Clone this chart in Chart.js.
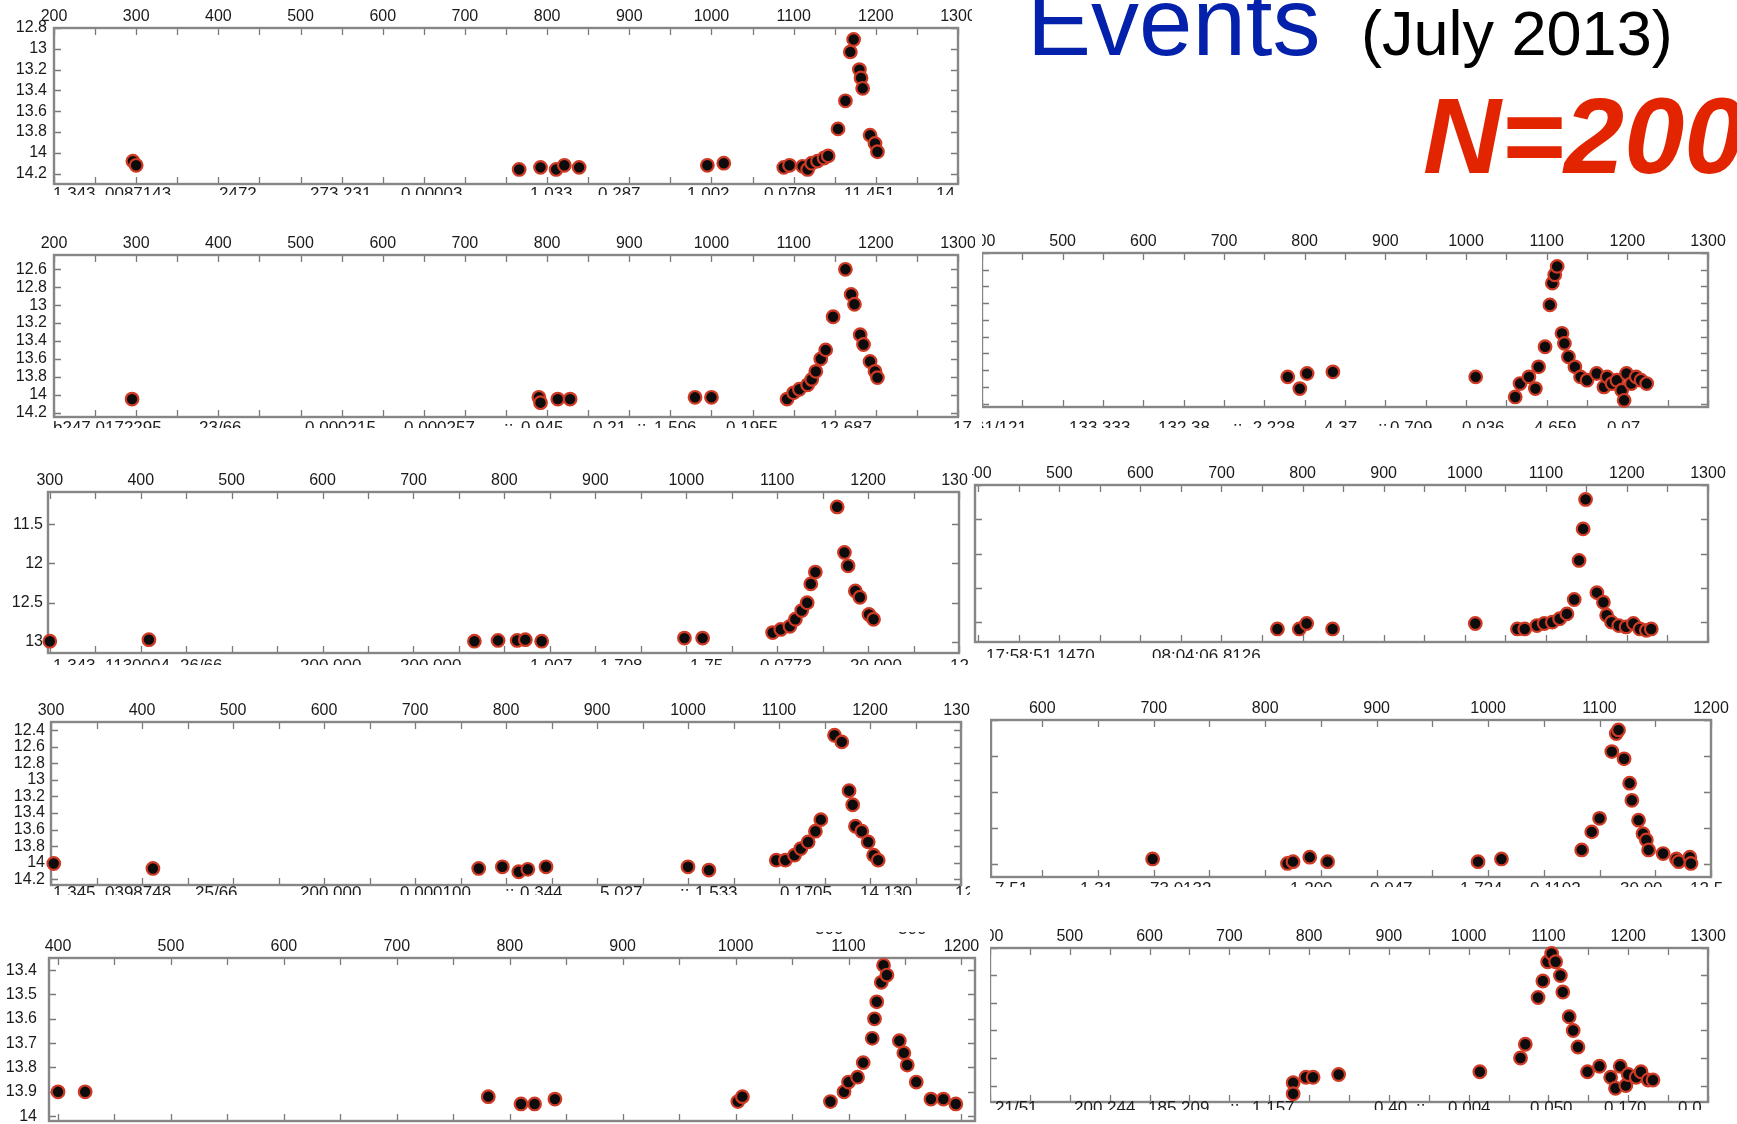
<!DOCTYPE html>
<html>
<head>
<meta charset="utf-8">
<script src="https://cdn.jsdelivr.net/npm/chart.js@4.4.1/dist/chart.umd.min.js"></script>
<style>
html, body { margin: 0; padding: 0; background: #fff; }
body { width: 1737px; height: 1124px; position: relative; overflow: hidden; font-family: 'Liberation Sans', Arial, sans-serif; }
.crop { position: absolute; overflow: hidden; background: #fff; filter: blur(0.7px); }
.crop canvas { position: absolute; }
.row { position: absolute; font-family: 'Liberation Sans Narrow', 'Liberation Sans', sans-serif; font-size: 17px; line-height: 17px; color: #1e1e1e; white-space: pre; }
.title { position: absolute; white-space: nowrap; line-height: 1; }
</style>
</head>
<body>
<div class="title" style="left:1027px; top:-26px; font-size:96px; color:#0321ab;">Events</div>
<div class="title" style="left:1361px; top:2px; font-size:63px; color:#000;">(July 2013)</div>
<div class="title" style="left:1423px; top:82px; font-size:108px; color:#e32400; font-weight:bold; font-style:italic;">N=200</div>

<script>
// light curves (day, magnitude)
const p1Day = [296, 300, 766, 792, 811, 821, 839, 995, 1015, 1088, 1095, 1111, 1117, 1122, 1129, 1137, 1142, 1154, 1163, 1169, 1173, 1180, 1182, 1184, 1193, 1199, 1202];
const p1Mag = [14.08, 14.12, 14.16, 14.14, 14.16, 14.12, 14.14, 14.12, 14.1, 14.14, 14.12, 14.13, 14.16, 14.1, 14.08, 14.05, 14.03, 13.77, 13.5, 13.03, 12.91, 13.2, 13.28, 13.38, 13.83, 13.91, 13.99];

const p2Day = [295, 790, 792, 813, 828, 980, 1000, 1092, 1100, 1107, 1117, 1122, 1127, 1133, 1139, 1148, 1163, 1170, 1174, 1181, 1185, 1193, 1199, 1202];
const p2Mag = [14.05, 14.03, 14.09, 14.05, 14.05, 14.03, 14.03, 14.05, 13.98, 13.94, 13.89, 13.83, 13.74, 13.6, 13.5, 13.13, 12.6, 12.88, 12.99, 13.33, 13.44, 13.63, 13.74, 13.81];

const p3Day = [300, 409, 767, 793, 814, 823, 841, 998, 1018, 1095, 1104, 1114, 1120, 1127, 1133, 1137, 1142, 1166, 1174, 1178, 1186, 1191, 1201, 1206];
const p3Mag = [12.99, 12.97, 12.99, 12.98, 12.98, 12.97, 12.99, 12.95, 12.95, 12.88, 12.84, 12.8, 12.71, 12.6, 12.5, 12.26, 12.11, 11.28, 11.86, 12.03, 12.35, 12.43, 12.65, 12.71];

const p4Day = [303, 412, 770, 796, 814, 824, 844, 1000, 1023, 1097, 1107, 1117, 1124, 1132, 1140, 1146, 1161, 1169, 1177, 1181, 1184, 1191, 1198, 1204, 1209];
const p4Mag = [14.01, 14.07, 14.07, 14.05, 14.11, 14.08, 14.05, 14.05, 14.09, 13.97, 13.97, 13.91, 13.83, 13.75, 13.62, 13.48, 12.46, 12.54, 13.13, 13.3, 13.56, 13.62, 13.75, 13.91, 13.97];

const p5Day = [400, 424, 781, 810, 822, 840, 1002, 1006, 1084, 1096, 1100, 1108, 1113, 1121, 1123, 1125, 1129, 1131, 1134, 1145, 1149, 1152, 1160, 1173, 1184, 1195];
const p5Mag = [13.9, 13.9, 13.92, 13.95, 13.95, 13.93, 13.94, 13.92, 13.94, 13.9, 13.86, 13.84, 13.78, 13.68, 13.6, 13.53, 13.45, 13.38, 13.42, 13.69, 13.74, 13.79, 13.86, 13.93, 13.93, 13.95];

const p6Day = [779, 794, 803, 835, 1012, 1061, 1067, 1078, 1086, 1090, 1098, 1104, 1107, 1110, 1113, 1119, 1122, 1127, 1135, 1142, 1150, 1162, 1171, 1175, 1181, 1187, 1193, 1196, 1199, 1205, 1211, 1217, 1224];
const p6Mag = [13.88, 14.02, 13.84, 13.82, 13.88, 14.12, 13.96, 13.88, 14.02, 13.76, 13.52, 13.02, 12.76, 12.66, 12.56, 13.36, 13.48, 13.64, 13.76, 13.88, 13.92, 13.84, 14.0, 13.88, 13.96, 13.92, 14.04, 14.16, 13.84, 13.96, 13.88, 13.92, 13.96];

const p7Day = [769, 796, 805, 837, 1013, 1065, 1074, 1089, 1098, 1108, 1117, 1126, 1135, 1141, 1146, 1149, 1163, 1171, 1175, 1181, 1190, 1199, 1208, 1216, 1224, 1230];
const p7Mag = [13.1, 13.1, 13.02, 13.1, 13.02, 13.1, 13.1, 13.05, 13.02, 13.0, 12.95, 12.88, 12.67, 12.1, 11.64, 11.21, 12.57, 12.71, 12.9, 13.0, 13.05, 13.07, 13.02, 13.1, 13.12, 13.1];

const p8Day = [699, 820, 825, 840, 856, 991, 1012, 1084, 1093, 1100, 1111, 1115, 1117, 1122, 1127, 1129, 1135, 1139, 1142, 1144, 1157, 1169, 1171, 1181, 1182];
const p8Mag = [13.94, 13.99, 13.97, 13.92, 13.97, 13.97, 13.94, 13.84, 13.64, 13.49, 12.75, 12.55, 12.51, 12.83, 13.1, 13.29, 13.51, 13.66, 13.73, 13.84, 13.88, 13.94, 13.97, 13.92, 13.99];

const p9Day = [780, 780, 796, 805, 837, 1014, 1065, 1071, 1087, 1093, 1099, 1104, 1109, 1115, 1118, 1126, 1131, 1137, 1149, 1164, 1178, 1184, 1190, 1197, 1200, 1210, 1216, 1225, 1231];
const p9Mag = [13.79, 13.83, 13.77, 13.77, 13.76, 13.75, 13.7, 13.65, 13.48, 13.42, 13.35, 13.32, 13.35, 13.4, 13.46, 13.55, 13.6, 13.66, 13.75, 13.73, 13.77, 13.81, 13.73, 13.8, 13.76, 13.77, 13.75, 13.78, 13.78];

const FONT = "'Liberation Sans Narrow', 'Liberation Sans', Arial, sans-serif";
const PAD = { l: 70, t: 40, r: 40, b: 30 };

// crop = visible piece of each pasted plot, box = its axes frame (page px)
const panels = [
  { days: p6Day, mags: p6Mag, crop: [982, 228, 755, 200], box: [982, 253, 1708, 407], x: [400, 1300], y: [12.4, 14.24, 0.2], yPad: null,
    row: { top: 419, items: [[975, '61/121'], [1069, '133.333'], [1158, '132.38'], [1233, '::'], [1247, '-2.228'], [1324, '4.37'], [1378, '::'], [1390, '0.709'], [1462, '0.036'], [1534, '4.659'], [1607, '0.07']] } },
  { days: p7Day, mags: p7Mag, crop: [972, 455, 765, 203], box: [975, 485, 1708, 642], x: [396, 1300], y: [11.0, 13.29, 0.5], yPad: null,
    row: { top: 647, items: [[986, '17:58:51.1470'], [1152, '08:04:06.8126']] } },
  { days: p8Day, mags: p8Mag, crop: [990, 690, 747, 197], box: [991, 720, 1711, 877], x: [554, 1200], y: [12.4, 14.14, 0.4], yPad: null,
    row: { top: 880, items: [[995, '7.51'], [1080, '1.31'], [1150, '73.0132'], [1290, '1.200'], [1370, '0.047'], [1460, '1.724'], [1530, '0.1102'], [1620, '30.00'], [1690, '12.5']] } },
  { days: p9Day, mags: p9Mag, crop: [990, 925, 747, 185], box: [990, 948, 1708, 1102], x: [400, 1300], y: [13.3, 13.86, 0.1], yPad: null,
    row: { top: 1099, items: [[995, '21/51'], [1074, '200.244'], [1148, '185.209'], [1230, '::'], [1252, '1.157'], [1374, '0.40'], [1416, '::'], [1448, '0.004'], [1530, '0.050'], [1604, '0.170'], [1678, '0.0']] } },
  { days: p1Day, mags: p1Mag, crop: [0, 0, 972, 195], box: [54, 28, 958, 184], x: [200, 1300], y: [12.8, 14.3, 0.2], yPad: 7,
    row: { top: 185, items: [[53, '1.343 .0087143'], [219, '2472'], [310, '273.231'], [401, '0.00003'], [530, '1.033'], [598, '0.287'], [687, '1.002'], [764, '0.0708'], [844, '11.451'], [936, '14']] } },
  { days: p2Day, mags: p2Mag, crop: [0, 228, 975, 200], box: [54, 255, 958, 417], x: [200, 1300], y: [12.44, 14.25, 0.2], yPad: 7,
    row: { top: 419, items: [[53, 'b247.0172295'], [199, '23/66'], [305, '0.000215'], [404, '0.000257'], [504, '::'], [521, '0.945'], [593, '0.21'], [637, '::'], [654, '1.506'], [726, '0.1955'], [820, '12.687'], [953, '17']] } },
  { days: p3Day, mags: p3Mag, crop: [0, 455, 968, 210], box: [48, 492, 959, 653], x: [298, 1300], y: [11.09, 13.14, 0.5], yPad: 5,
    row: { top: 657, items: [[53, '1.343 .1130004'], [180, '26/66'], [300, '200.000'], [400, '200.000'], [530, '1.007'], [600, '1.708'], [690, '1.75'], [760, '0.0773'], [850, '20.000'], [950, '12']] } },
  { days: p4Day, mags: p4Mag, crop: [0, 690, 970, 205], box: [51, 722, 961, 885], x: [300, 1300], y: [12.3, 14.27, 0.2], yPad: 6,
    row: { top: 884, items: [[53, '1.345 .0398748'], [195, '25/66'], [300, '200.000'], [400, '0.000100'], [505, '::'], [520, '0.344'], [600, '5.027'], [680, '::'], [695, '1.533'], [780, '0.1705'], [860, '14.130'], [955, '12']] } },
  { days: p5Day, mags: p5Mag, crop: [0, 932, 990, 192], box: [49, 958, 975, 1121], x: [392, 1212], y: [13.35, 14.02, 0.1], yPad: 12,
    row: { top: 920, items: [[815, '300'], [898, '300']] } }
];

// ticks on every whole step inside the range
function stepTicks(step) {
  return s => {
    const out = [];
    for (let v = Math.ceil(s.min / step - 1e-6) * step; v <= s.max + 1e-6; v += step) {
      out.push({ value: Math.round(v * 1000) / 1000 });
    }
    s.ticks = out;
  };
}

const frame = {
  id: 'frame',
  beforeDatasetsDraw(chart) {
    const { ctx, chartArea: a, scales: { x, y } } = chart;
    ctx.save();
    ctx.strokeStyle = '#7a7a7a';
    ctx.lineWidth = 1.3;
    ctx.beginPath();
    for (let v = Math.ceil(x.min / 50) * 50; v <= x.max; v += 50) {
      const px = Math.round(x.getPixelForValue(v)) + 0.5;
      ctx.moveTo(px, a.top); ctx.lineTo(px, a.top + 7);
      ctx.moveTo(px, a.bottom); ctx.lineTo(px, a.bottom - 7);
    }
    y.ticks.forEach(t => {
      const py = Math.round(y.getPixelForValue(t.value)) + 0.5;
      ctx.moveTo(a.left, py); ctx.lineTo(a.left + 7, py);
      ctx.moveTo(a.right, py); ctx.lineTo(a.right - 7, py);
    });
    ctx.stroke();
    ctx.strokeStyle = '#868686';
    ctx.lineWidth = 2.4;
    ctx.strokeRect(a.left, a.top, a.right - a.left, a.bottom - a.top);
    ctx.restore();
  }
};

panels.forEach(p => {
  const [cl, ct, cw, ch] = p.crop;
  const [bl, bt, br, bb] = p.box;
  const div = document.createElement('div');
  div.className = 'crop';
  Object.assign(div.style, { left: cl + 'px', top: ct + 'px', width: cw + 'px', height: ch + 'px' });

  const cv = document.createElement('canvas');
  const w = br - bl + PAD.l + PAD.r;
  const h = bb - bt + PAD.t + PAD.b;
  cv.width = w; cv.height = h;
  Object.assign(cv.style, { left: (bl - PAD.l - cl) + 'px', top: (bt - PAD.t - ct) + 'px', width: w + 'px', height: h + 'px' });
  div.appendChild(cv);

  p.row.items.forEach(([x, txt]) => {
    const s = document.createElement('div');
    s.className = 'row';
    s.style.left = (x - cl) + 'px';
    s.style.top = (p.row.top - ct) + 'px';
    s.textContent = txt;
    div.appendChild(s);
  });
  document.body.appendChild(div);

  new Chart(cv, {
    type: 'scatter',
    data: {
      datasets: [{
        data: p.days.map((d, i) => ({ x: d, y: p.mags[i] })),
        pointRadius: 6.3,
        pointBackgroundColor: '#0c0c0c',
        pointBorderColor: '#cf3a25',
        pointBorderWidth: 2.2,
        clip: false
      }]
    },
    options: {
      responsive: false,
      animation: false,
      layout: { padding: { left: 0, top: 0, right: PAD.r, bottom: PAD.b } },
      plugins: { legend: { display: false }, tooltip: { enabled: false } },
      scales: {
        x: {
          type: 'linear', position: 'top', min: p.x[0], max: p.x[1],
          grid: { display: false, drawTicks: false }, border: { display: false },
          ticks: { autoSkip: false, maxRotation: 0, padding: 2, color: '#1a1a1a',
            font: { family: FONT, size: 16 }, callback: v => String(v) },
          afterBuildTicks: stepTicks(100),
          afterFit: s => { s.height = PAD.t; }
        },
        y: {
          type: 'linear', reverse: true, min: p.y[0], max: p.y[1],
          grid: { display: false, drawTicks: false }, border: { display: false },
          ticks: { autoSkip: false, display: p.yPad !== null, padding: p.yPad || 0,
            color: '#1a1a1a', font: { family: FONT, size: 16 }, callback: v => String(Math.round(v * 100) / 100) },
          afterBuildTicks: stepTicks(p.y[2]),
          afterFit: s => { s.width = PAD.l; }
        }
      }
    },
    plugins: [frame]
  });
});
</script>
</body>
</html>
